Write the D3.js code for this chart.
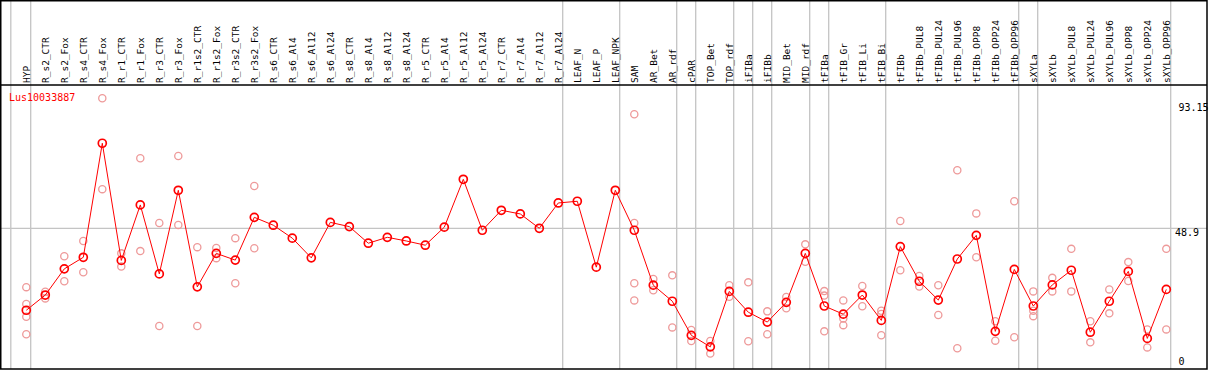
<!DOCTYPE html>
<html>
<head>
<meta charset="utf-8">
<script src="https://cdn.jsdelivr.net/npm/d3@7"></script>
<style>
  body { margin: 0; background: #fff; }
  svg text { font-family: 'DejaVu Sans Mono', monospace; }
</style>
</head>
<body>
<div id="chart"></div>
<script>
// Data
const geneName = 'Lus10033887';

const samples = ['HYP', 'R_s2_CTR', 'R_s2_Fox', 'R_s4_CTR', 'R_s4_Fox', 'R_r1_CTR', 'R_r1_Fox',
  'R_r3_CTR', 'R_r3_Fox', 'R_r1s2_CTR', 'R_r1s2_Fox', 'R_r3s2_CTR', 'R_r3s2_Fox', 'R_s6_CTR',
  'R_s6_Al4', 'R_s6_Al12', 'R_s6_Al24', 'R_s8_CTR', 'R_s8_Al4', 'R_s8_Al12', 'R_s8_Al24',
  'R_r5_CTR', 'R_r5_Al4', 'R_r5_Al12', 'R_r5_Al24', 'R_r7_CTR', 'R_r7_Al4', 'R_r7_Al12', 'R_r7_Al24',
  'LEAF_N', 'LEAF_P', 'LEAF_NPK', 'SAM', 'AR_Bet', 'AR_rdf', 'cPAR', 'TOP_Bet', 'TOP_rdf',
  'iFIBa', 'iFIBb', 'MID_Bet', 'MID_rdf', 'tFIBa', 'tFIB_Gr', 'tFIB_Li', 'tFIB_Bi', 'tFIBb',
  'tFIBb_PUL8', 'tFIBb_PUL24', 'tFIBb_PUL96', 'tFIBb_OPP8', 'tFIBb_OPP24', 'tFIBb_OPP96',
  'sXYLa', 'sXYLb', 'sXYLb_PUL8', 'sXYLb_PUL24', 'sXYLb_PUL96', 'sXYLb_OPP8', 'sXYLb_OPP24', 'sXYLb_OPP96'];

const means = [19.8, 25.2, 34.5, 38.6, 79.1, 37.5, 57.2, 32.7, 62.4, 28.1, 40.0, 37.6, 52.8, 50.0,
  45.4, 38.4, 51.0, 49.5, 43.6, 45.7, 44.4, 42.9, 49.3, 66.3, 48.2, 55.3, 54.0, 48.9, 57.9,
  58.5, 35.1, 62.4, 48.2, 28.7, 23.0, 10.9, 6.8, 26.5, 19.1, 15.6, 22.6, 40.0, 21.3, 18.4,
  25.2, 16.2, 42.4, 30.1, 23.4, 38.0, 46.4, 12.3, 34.3, 21.3, 28.8, 34.0, 12.0, 23.0, 33.6,
  9.8, 27.2];

const replicates = [
  [28.0, 22.0, 17.5, 11.3], [26.4, 24.0], [39.0, 30.1], [44.4, 33.3], [95.1, 62.8],
  [40.0, 35.3], [73.8, 40.8], [50.8, 14.2], [74.6, 50.1], [42.2, 14.2], [41.9, 38.3],
  [45.4, 29.4], [63.9, 41.8],
  [], [], [], [], [], [], [], [], [], [], [], [], [], [], [], [], [], [], [],
  [89.4, 50.8, 29.4, 23.3], [30.9, 26.9], [32.2, 13.7], [12.8, 8.9], [8.9, 4.4],
  [28.7, 24.6], [29.7, 8.8], [19.4, 11.3], [24.5, 20.5], [43.2, 37.0],
  [26.6, 25.0, 12.3], [23.3, 16.9, 14.5], [28.4, 21.2], [19.6, 18.5, 10.9],
  [51.5, 34.0], [32.0, 28.2], [28.7, 18.1], [69.5, 6.3], [54.2, 38.6], [15.9, 9.0],
  [58.5, 10.2], [26.5, 19.6, 17.7], [31.3, 26.5], [41.6, 26.5], [15.9, 8.4], [27.2, 18.7],
  [36.9, 30.2], [13.0, 6.6], [41.6, 13.0]];

// samples after which a grey separator is drawn
const groupEnds = ['HYP', 'R_r7_Al24', 'LEAF_NPK', 'AR_rdf', 'cPAR', 'TOP_rdf', 'iFIBa', 'iFIBb',
  'MID_rdf', 'tFIBa', 'tFIB_Bi', 'tFIBb_OPP96', 'sXYLa', 'sXYLb_OPP96'];

const yTickLabels = ['93.15', '48.9', '0'];


// Layout
const width = 1209;
const height = 370;
const headerBottom = 85;
const frameRight = 1207;
const frameBottom = 369;
const red = '#ff0000';
const pink = '#ee9a9a';
const grid = '#c4c4c4';

const svg = d3.select('#chart').append('svg')
  .attr('width', width)
  .attr('height', height);

const x = d3.scalePoint()
  .domain(samples)
  .range([26.3, 26.3 + 19 * (samples.length - 1)]);

const y = d3.scaleLinear()
  .domain([0, 97.8])
  .range([366, 90.6]);


// Grid lines
const sepX = [x('HYP') - 15.5].concat(groupEnds.map(d => x(d) + 4.4));
svg.append('g')
    .attr('class', 'separators')
  .selectAll('line')
  .data(sepX)
  .join('line')
    .attr('x1', d => d)
    .attr('x2', d => d)
    .attr('y1', 0)
    .attr('y2', frameBottom)
    .attr('stroke', grid)
    .attr('stroke-width', 1.3);

svg.append('line')
    .attr('x1', 1)
    .attr('x2', frameRight)
    .attr('y1', y(48.9))
    .attr('y2', y(48.9))
    .attr('stroke', grid)
    .attr('stroke-width', 1.3);


// Frame
svg.append('rect')
    .attr('x', 0.75)
    .attr('y', 0.75)
    .attr('width', frameRight - 0.75)
    .attr('height', frameBottom - 0.75)
    .attr('fill', 'none')
    .attr('stroke', '#000')
    .attr('stroke-width', 1.5);

svg.append('line')
    .attr('x1', 0)
    .attr('x2', frameRight)
    .attr('y1', headerBottom)
    .attr('y2', headerBottom)
    .attr('stroke', '#000')
    .attr('stroke-width', 1.5);


// Column labels
svg.append('g')
    .attr('class', 'column-labels')
  .selectAll('text')
  .data(samples)
  .join('text')
    .attr('transform', d => `translate(${x(d) + 3.8}, 83) rotate(-90)`)
    .attr('font-size', '9.5px')
    .attr('fill', '#000')
    .text(d => d);


// Replicate points
const repPoints = [];
samples.forEach((s, i) => replicates[i].forEach(v => repPoints.push({sample: s, value: v})));
svg.append('g')
    .attr('class', 'replicates')
  .selectAll('circle')
  .data(repPoints)
  .join('circle')
    .attr('cx', d => x(d.sample))
    .attr('cy', d => y(d.value))
    .attr('r', 3.6)
    .attr('fill', 'none')
    .attr('stroke', pink)
    .attr('stroke-width', 1.3);


// Mean line and markers
const meanData = samples.map((s, i) => ({sample: s, value: means[i]}));
svg.append('path')
    .datum(meanData)
    .attr('fill', 'none')
    .attr('stroke', red)
    .attr('stroke-width', 1)
    .attr('d', d3.line().x(d => x(d.sample)).y(d => y(d.value)));

svg.append('g')
    .attr('class', 'means')
  .selectAll('circle')
  .data(meanData)
  .join('circle')
    .attr('cx', d => x(d.sample))
    .attr('cy', d => y(d.value))
    .attr('r', 4)
    .attr('fill', 'none')
    .attr('stroke', red)
    .attr('stroke-width', 1.7);


// Gene name
svg.append('text')
    .attr('x', 9)
    .attr('y', 101)
    .attr('font-size', '10px')
    .attr('fill', red)
    .text(geneName);


// Value labels on the right
svg.append('g')
    .attr('class', 'value-labels')
  .selectAll('text')
  .data(yTickLabels)
  .join('text')
    .attr('x', d => d === '48.9' ? 1175 : 1178.5)
    .attr('y', (d, i) => i === 2 ? y(+d) - 1.5 : y(+d) + 7.5)
    .attr('font-size', '10px')
    .attr('fill', '#000')
    .text(d => d);
</script>
</body>
</html>
